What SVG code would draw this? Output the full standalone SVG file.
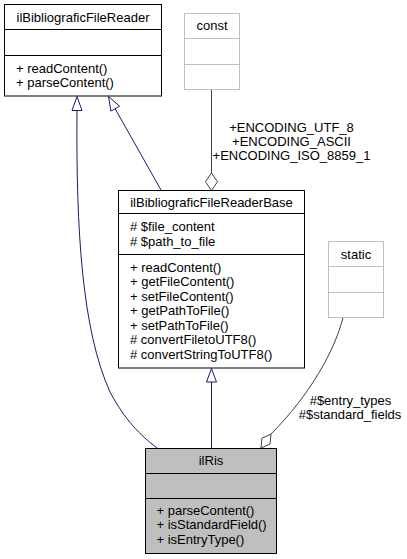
<svg xmlns="http://www.w3.org/2000/svg" width="407" height="559" viewBox="0 0 407 559">
<style>
text{font-family:"Liberation Sans",Arial,sans-serif;font-size:13px;fill:#000}
.t{text-anchor:middle}
.box{fill:#fff;stroke:#000;stroke-width:1}
.gbox{fill:#fff;stroke:#bfbfbf;stroke-width:1}
.cur{fill:#bfbfbf;stroke:#000;stroke-width:1}
.sep{stroke:#000;stroke-width:1}
.gsep{stroke:#bfbfbf;stroke-width:1}
.inh{fill:none;stroke:#191970;stroke-width:1}
.inhh{fill:#fff;stroke:#191970;stroke-width:1}
.use{fill:none;stroke:#404040;stroke-width:1}
.useh{fill:#fff;stroke:#404040;stroke-width:1}
</style>
<rect width="407" height="559" fill="#fff"/>
<g id="connectors">
<path class="inh" d="M157,448 C140,435 125,420 110,392 C82,330 76,230 77,111"/>
<polygon class="inhh" points="77,96.5 82,110.5 72,110.5"/>
<path class="inh" d="M161,190 L115,108.5"/>
<polygon class="inhh" points="108.5,96.5 119.6,106.2 110.9,111.1"/>
<path class="inh" d="M211.5,448 L211.5,382"/>
<polygon class="inhh" points="211.5,368.5 216.5,382 206.5,382"/>
<path class="use" d="M211.5,89.5 L211.5,173"/>
<polygon class="useh" points="211.5,190.5 217.5,181.75 211.5,173 205.5,181.75"/>
<text class="t" x="291.5" y="132">+ENCODING_UTF_8</text>
<text class="t" x="291.5" y="146">+ENCODING_ASCII</text>
<text class="t" x="291.5" y="160">+ENCODING_ISO_8859_1</text>
<path class="use" d="M343,317.5 C335,350 310,395 271,434"/>
<polygon class="useh" points="261,448 270,444 271,434.2 261.9,438.2"/>
<text class="t" x="350.5" y="404.5">#$entry_types</text>
<text class="t" x="350" y="419">#$standard_fields</text>
</g>
<g id="ilBibliograficFileReader">
<rect class="box" x="4.5" y="4.5" width="157" height="91.5"/>
<line class="sep" x1="4.5" y1="29.5" x2="161.5" y2="29.5"/>
<line class="sep" x1="4.5" y1="55.5" x2="161.5" y2="55.5"/>
<text class="t" x="83" y="21.5">ilBibliograficFileReader</text>
<text x="16" y="72.5">+ readContent()</text>
<text x="16" y="87">+ parseContent()</text>
</g>
<g id="const">
<rect class="gbox" x="184.5" y="13.5" width="55" height="76"/>
<line class="gsep" x1="184.5" y1="38.5" x2="239.5" y2="38.5"/>
<line class="gsep" x1="184.5" y1="64.5" x2="239.5" y2="64.5"/>
<text class="t" x="212" y="30">const</text>
</g>
<g id="ilBibliograficFileReaderBase">
<rect class="box" x="118.5" y="190.5" width="186" height="177.5"/>
<line class="sep" x1="118.5" y1="213.5" x2="304.5" y2="213.5"/>
<line class="sep" x1="118.5" y1="254.5" x2="304.5" y2="254.5"/>
<text class="t" x="211.5" y="206.5">ilBibliograficFileReaderBase</text>
<text x="130" y="231">#&#160;$file_content</text>
<text x="130" y="245.5">#&#160;$path_to_file</text>
<text x="130" y="271.5">+ readContent()</text>
<text x="130" y="286">+ getFileContent()</text>
<text x="130" y="300.5">+ setFileContent()</text>
<text x="130" y="315">+ getPathToFile()</text>
<text x="130" y="329.5">+ setPathToFile()</text>
<text x="130" y="344"># convertFiletoUTF8()</text>
<text x="130" y="358.5"># convertStringToUTF8()</text>
</g>
<g id="static">
<rect class="gbox" x="328.5" y="241.5" width="55" height="76"/>
<line class="gsep" x1="328.5" y1="266.5" x2="383.5" y2="266.5"/>
<line class="gsep" x1="328.5" y1="292.5" x2="383.5" y2="292.5"/>
<text class="t" x="356" y="258.5">static</text>
</g>
<g id="ilRis">
<rect class="cur" x="145.5" y="448.5" width="131" height="105"/>
<line class="sep" x1="145.5" y1="473.5" x2="276.5" y2="473.5"/>
<line class="sep" x1="145.5" y1="498.5" x2="276.5" y2="498.5"/>
<text class="t" x="211" y="464.5">ilRis</text>
<text x="156.5" y="514.5">+ parseContent()</text>
<text x="156.5" y="529">+ isStandardField()</text>
<text x="156.5" y="543.5">+ isEntryType()</text>
</g>
</svg>
